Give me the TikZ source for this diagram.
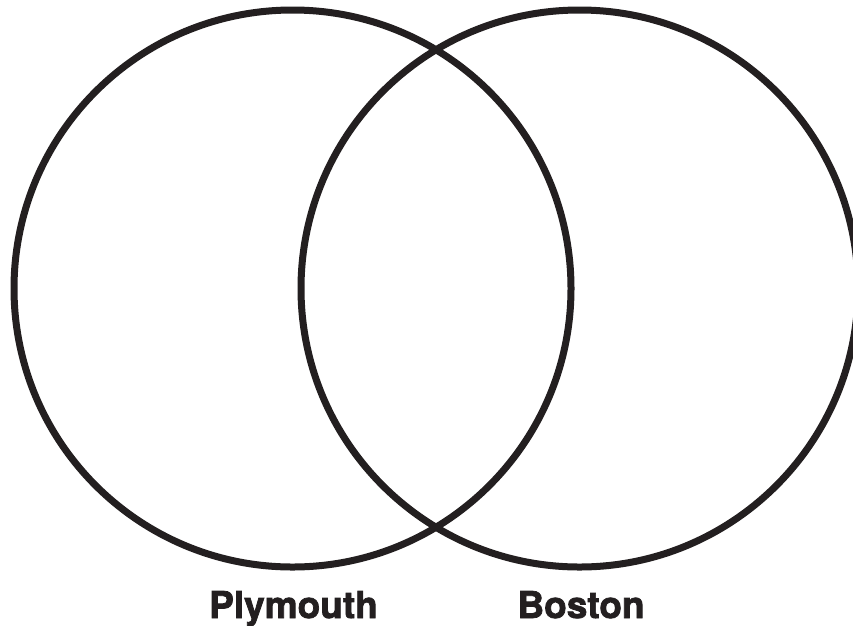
\documentclass[tikz,border=0pt]{standalone}
\usepackage{fontspec}
\setmainfont{TeX Gyre Heros}
\newfontfamily\setlabelfont[FakeBold=2]{TeX Gyre Heros Bold}
\definecolor{inkblack}{HTML}{231F20}

\begin{document}
\begin{tikzpicture}[x=1pt,y=-1pt,font=\setlabelfont\fontsize{37}{44}\selectfont,
  ring/.style={draw=inkblack,line width=7pt,fill=none},
  setname/.style={anchor=base,text=inkblack,inner sep=0pt}]
\useasboundingbox (0,0) rectangle (853,625);
\coordinate (center-plymouth) at (292.5,288.5);
\coordinate (center-boston) at (579.5,288.5);
\path[ring] (center-plymouth) circle[radius=278.5];
\path[ring] (center-boston) circle[radius=278.5];
\node[setname] (label-plymouth) at (293.5,618) {Plymouth};
\node[setname] (label-boston) at (581,618) {Boston};
\end{tikzpicture}
\end{document}
